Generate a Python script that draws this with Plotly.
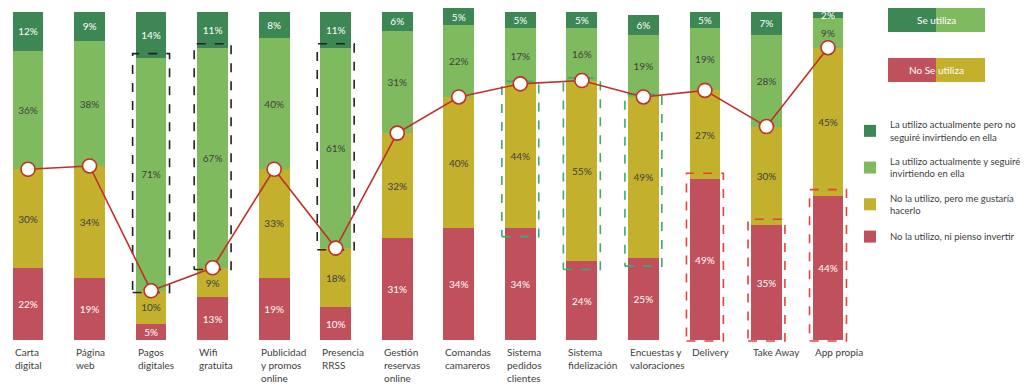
import plotly.graph_objects as go

# ---------------- data ----------------
categories = [
    ["Carta", "digital"], ["Página", "web"], ["Pagos", "digitales"], ["Wifi", "gratuita"],
    ["Publicidad", "y promos", "online"], ["Presencia", "RRSS"], ["Gestión", "reservas", "online"],
    ["Comandas", "camareros"], ["Sistema", "pedidos", "clientes"], ["Sistema", "fidelización"],
    ["Encuestas y", "valoraciones"], ["Delivery"], ["Take Away"], ["App propia"],
]
no_invest = [22, 19, 5, 13, 19, 10, 31, 34, 34, 24, 25, 49, 35, 44]      # No la utilizo, ni pienso invertir
no_but_want = [30, 34, 10, 9, 33, 18, 32, 40, 44, 55, 49, 27, 30, 45]    # No la utilizo, pero me gustaría hacerlo
use_continue = [36, 38, 71, 67, 40, 61, 31, 22, 17, 16, 19, 19, 28, 9]   # La utilizo y seguiré invirtiendo
use_stop = [12, 9, 14, 11, 8, 11, 6, 5, 5, 5, 6, 5, 7, 2]                # La utilizo pero no seguiré invirtiendo

series_names = [
    "No la utilizo, ni pienso invertir",
    "No la utilizo, pero me gustaría<br>hacerlo",
    "La utilizo actualmente y seguiré<br>invirtiendo en ella",
    "La utilizo actualmente pero no<br>seguiré invirtiendo en ella",
]
highlight_black = [2, 3, 5]    # light-green segment highlighted
highlight_green = [8, 9, 10]   # yellow segment highlighted
highlight_red = [11, 12, 13]   # red segment highlighted

# ---------------- style ----------------
RED = "#C0515C"
YEL = "#C3B12D"
LGR = "#80BA5E"
DGR = "#3D8754"
LINE = "#C0302A"
TXT = "#404040"
FONT = "Lato"

W, H = 1024, 387
ML, MR, MT, MB = 0, 164, 5, 42
PW = W - ML - MR
PH = H - MT - MB

def px_x(p):
    return (p - ML) / PW

def px_y(p):
    return (H - MB - p) / PH

x = list(range(len(categories)))
fig = go.Figure()

stack = [no_invest, no_but_want, use_continue, use_stop]
colors = [RED, YEL, LGR, DGR]
txtcol = ["white", TXT, TXT, "white"]
ranks = [4, 3, 2, 1]
for vals, name, col, tc, rk in zip(stack, series_names, colors, txtcol, ranks):
    fig.add_trace(go.Bar(
        x=x, y=vals, name=name, marker=dict(color=col, line=dict(width=0)),
        width=0.5, text=[f"{v}%" for v in vals], textposition="inside",
        insidetextanchor="middle", textfont=dict(color=tc, size=10, family=FONT),
        legendgroup=name, legendrank=rk, hoverinfo="skip",
    ))

no_total = [a + b for a, b in zip(no_invest, no_but_want)]

def rect_trace(i, y0, y1, color):
    hw = 0.3
    return go.Scatter(
        x=[i - hw, i + hw, i + hw, i - hw, i - hw], y=[y0, y0, y1, y1, y0],
        mode="lines", line=dict(color=color, width=1.6, dash="dash"),
        showlegend=False, hoverinfo="skip",
    )

for i in highlight_black:
    fig.add_trace(rect_trace(i, no_total[i] - 0.5, no_total[i] + use_continue[i] + 1.2, "#222222"))
for i in highlight_green:
    fig.add_trace(rect_trace(i, no_invest[i] - 2.5, no_total[i] + 0.8, "#3BAA74"))
for i in highlight_red:
    fig.add_trace(rect_trace(i, -0.3, no_invest[i] + 1.8, "#E8413C"))

fig.add_trace(go.Scatter(
    x=x, y=no_total, mode="lines+markers", name="No se utiliza",
    line=dict(color=LINE, width=1.6),
    marker=dict(size=14, color="white", line=dict(color=LINE, width=1.6)),
    showlegend=False, hoverinfo="skip", cliponaxis=False,
))

# category labels (left aligned under each bar)
for i, lab in enumerate(categories):
    fig.add_annotation(
        x=i - 0.25, y=px_y(344), xref="x", yref="paper", xanchor="left", yanchor="top",
        text="<br>".join(lab), align="left", showarrow=False,
        font=dict(size=10, color=TXT, family=FONT),
    )

# "Se utiliza" / "No Se utiliza" boxes
boxes = [("Se utiliza", DGR, LGR, 8, 32), ("No Se utiliza", RED, YEL, 58, 82)]
for label, c1, c2, t, b in boxes:
    fig.add_shape(type="rect", xref="paper", yref="paper", x0=px_x(888), x1=px_x(936),
                  y0=px_y(b), y1=px_y(t), fillcolor=c1, line=dict(width=0))
    fig.add_shape(type="rect", xref="paper", yref="paper", x0=px_x(936), x1=px_x(985),
                  y0=px_y(b), y1=px_y(t), fillcolor=c2, line=dict(width=0))
    fig.add_annotation(x=px_x(936), y=px_y((t + b) / 2), xref="paper", yref="paper",
                       xanchor="center", yanchor="middle",
                       text=label, showarrow=False, font=dict(size=10, color="white", family=FONT))

fig.update_layout(
    width=W, height=H, margin=dict(l=ML, r=MR, t=MT, b=MB, autoexpand=False),
    paper_bgcolor="white", plot_bgcolor="white", barmode="stack",
    font=dict(family=FONT, color=TXT, size=10),
    uniformtext=dict(minsize=10, mode="show"),
    xaxis=dict(range=[-0.455, 13.52], showticklabels=False, showgrid=False, zeroline=False),
    yaxis=dict(range=[-1.5, 102], showticklabels=False, showgrid=False, zeroline=False),
    legend=dict(x=px_x(850), y=px_y(112), xanchor="left", yanchor="top",
                traceorder="grouped", tracegroupgap=9, font=dict(size=9.5, color=TXT, family=FONT),
                bgcolor="rgba(0,0,0,0)"),
)

fig.write_html("out.html", config={"displayModeBar": False},
               post_script="document.body.style.margin='0px';")
